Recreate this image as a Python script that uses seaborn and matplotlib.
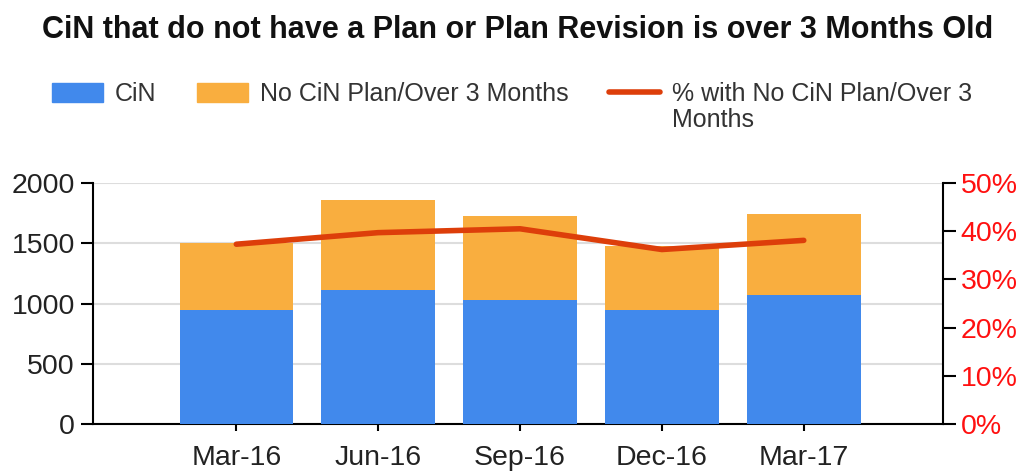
import numpy as np
import pandas as pd
import matplotlib
matplotlib.use("Agg")
import matplotlib.pyplot as plt
import seaborn as sns
from matplotlib.patches import Patch
from matplotlib.lines import Line2D
from matplotlib.ticker import FuncFormatter

quarters = ["Mar-16", "Jun-16", "Sep-16", "Dec-16", "Mar-17"]
cin = [943, 1109, 1032, 943, 1073]
no_plan = [559, 747, 691, 535, 672]
pct_no_plan = [37.3, 39.7, 40.5, 36.2, 38.1]

df = pd.DataFrame({"quarter": quarters, "cin": cin, "no_plan": no_plan, "pct": pct_no_plan})
df["total"] = df["cin"] + df["no_plan"]

sns.set_style("white")
plt.rcParams["font.family"] = ["Liberation Sans", "DejaVu Sans"]

blue = "#4189EC"
orange = "#F9AE3F"
red_line = "#DD3E0A"
txt = "#222222"

fig = plt.figure(figsize=(10.35, 4.73), dpi=100)
ax = fig.add_axes([0.0899, 0.1036, 0.821, 0.5095])

# stacked bars: total in orange, CiN drawn over it in blue
sns.barplot(data=df, x="quarter", y="total", color=orange, width=0.8,
            saturation=1, linewidth=0, ax=ax, zorder=2)
sns.barplot(data=df, x="quarter", y="cin", color=blue, width=0.8,
            saturation=1, linewidth=0, ax=ax, zorder=3)

ax.set_xlim(-1.01, 4.98)
ax.set_ylim(0, 2000)
ax.set_yticks([0, 500, 1000, 1500, 2000])
ax.yaxis.grid(True, color="#DDDDDD", linewidth=1.5, zorder=0)
ax.set_axisbelow(True)
ax.set_xlabel("")
ax.set_ylabel("")
ax.tick_params(axis="y", labelsize=20.5, labelcolor=txt, length=9, width=1.5,
               color="black", left=True, pad=4)
ax.tick_params(axis="x", labelsize=20.5, labelcolor=txt, length=5, width=1.5,
               color="black", bottom=True, pad=10)
for side in ["top", "right"]:
    ax.spines[side].set_visible(False)
for side in ["left", "bottom"]:
    ax.spines[side].set_color("black")
    ax.spines[side].set_linewidth(1.5)

ax2 = ax.twinx()
sns.lineplot(data=df, x="quarter", y="pct", color=red_line, linewidth=4,
             ax=ax2, zorder=5)
ax2.set_ylim(0, 50)
ax2.set_yticks([0, 10, 20, 30, 40, 50])
ax2.yaxis.set_major_formatter(FuncFormatter(lambda v, p: f"{v:.0f}%"))
ax2.set_ylabel("")
ax2.tick_params(axis="y", labelsize=20.5, labelcolor="#FF1010", length=9,
                width=1.5, color="black", pad=4)
for side in ["top", "left", "bottom"]:
    ax2.spines[side].set_visible(False)
ax2.spines["right"].set_color("black")
ax2.spines["right"].set_linewidth(1.5)
ax2.grid(False)

fig.text(0.5, 0.937, "CiN that do not have a Plan or Plan Revision is over 3 Months Old",
         ha="center", va="center", fontsize=22, fontweight="bold", color="#111111")

handles = [Patch(color=blue), Patch(color=orange),
           Line2D([0], [0], color=red_line, linewidth=4)]
labels = ["CiN", "No CiN Plan/Over 3 Months", "% with No CiN Plan/Over 3"]
leg = fig.legend(handles, labels, ncol=3, loc="upper left", bbox_to_anchor=(0.05, 0.827),
                 frameon=False, fontsize=18, labelcolor="#333333", handlelength=2.04,
                 handleheight=0.8, columnspacing=1.6, handletextpad=0.5,
                 borderaxespad=0, borderpad=0)

# second line of the last legend label, lined up under the first line
fig.canvas.draw()
bb = leg.get_texts()[2].get_window_extent().transformed(fig.transFigure.inverted())
fig.text(bb.x0, 0.747, "Months", ha="left", va="center", fontsize=18, color="#333333")

fig.savefig("out.png", dpi=100)
